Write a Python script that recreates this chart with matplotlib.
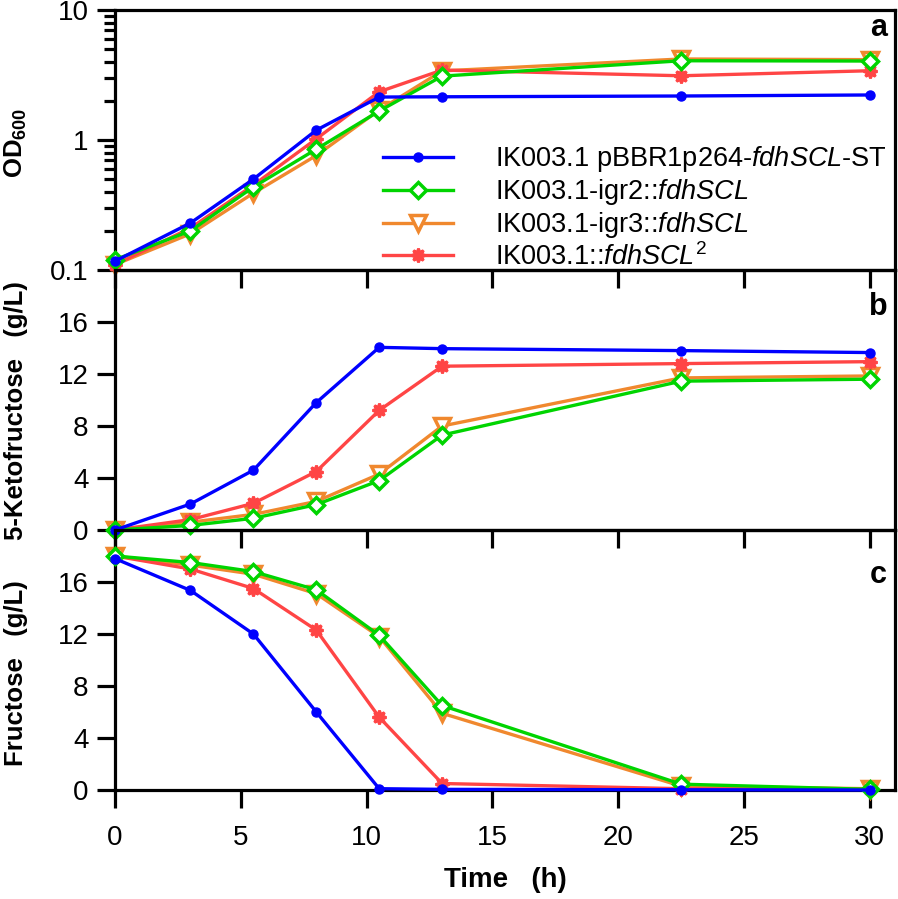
import numpy as np
import matplotlib
matplotlib.use("Agg")
import matplotlib.pyplot as plt

plt.rcParams['font.family'] = ['Liberation Sans', 'DejaVu Sans']
plt.rcParams['mathtext.fontset'] = 'custom'
plt.rcParams['mathtext.rm'] = 'Liberation Sans'
plt.rcParams['mathtext.it'] = 'Liberation Sans:italic'
plt.rcParams['mathtext.bf'] = 'Liberation Sans:bold'

# sampling times (h)
time = [0, 3, 5.5, 8, 10.5, 13, 22.5, 30]

strains = ['IK003.1 pBBR1p264-$\\mathit{fdhSCL}$-ST',
           'IK003.1-igr2::$\\mathit{fdhSCL}$',
           'IK003.1-igr3::$\\mathit{fdhSCL}$',
           'IK003.1::$\\mathit{fdhSCL}^{2}$']

# OD600
od_blue = [0.117, 0.23, 0.50, 1.19, 2.14, 2.15, 2.18, 2.22]
od_green = [0.12, 0.20, 0.435, 0.85, 1.67, 3.1, 4.07, 4.05]
od_orange = [0.11, 0.19, 0.39, 0.76, 1.7, 3.4, 4.2, 4.15]
od_red = [0.11, 0.21, 0.45, 1.02, 2.35, 3.45, 3.12, 3.41]

# 5-ketofructose (g/L)
kf_blue = [0, 2.0, 4.6, 9.8, 14.05, 13.95, 13.8, 13.65]
kf_green = [0, 0.35, 0.9, 1.95, 3.8, 7.3, 11.45, 11.6]
kf_orange = [0, 0.6, 1.2, 2.2, 4.3, 8.0, 11.7, 11.85]
kf_red = [0, 0.8, 2.05, 4.5, 9.2, 12.6, 12.8, 12.95]

# fructose (g/L)
fr_blue = [17.8, 15.35, 12.0, 6.0, 0.1, 0.05, 0.02, 0.0]
fr_green = [18.0, 17.5, 16.8, 15.4, 11.9, 6.5, 0.45, 0.05]
fr_orange = [18.0, 17.3, 16.6, 15.1, 11.8, 5.9, 0.3, 0.1]
fr_red = [18.0, 17.0, 15.5, 12.3, 5.6, 0.5, 0.1, 0.05]

colors = ['#0000ff', '#00d400', '#f0882e', '#ff4545']
styles = [dict(marker='o', ms=6.5, mfc=colors[0], mec=colors[0], zorder=5),
          dict(marker='D', ms=8.5, mfc='white', mec=colors[1], mew=2.5, zorder=4),
          dict(marker='v', ms=12, mfc='white', mec=colors[2], mew=2.5, zorder=2),
          dict(marker=(8, 1, 0), ms=10, mfc=colors[3], mec=colors[3], mew=2,
               zorder=3)]

fig = plt.figure(figsize=(8.98, 8.99), dpi=100)
left, right = 115 / 898, 895 / 898
bottom, top = 1 - 790 / 899, 1 - 10 / 899
ph = (top - bottom) / 3
axes = [fig.add_axes([left, bottom + (2 - i) * ph, right - left, ph]) for i in range(3)]

data = [[od_blue, od_green, od_orange, od_red],
        [kf_blue, kf_green, kf_orange, kf_red],
        [fr_blue, fr_green, fr_orange, fr_red]]

for ax, series in zip(axes, data):
    ax.patch.set_visible(False)
    for k, y in enumerate(series):
        ax.plot(time, y, color=colors[k], lw=2.4, clip_on=False,
                label=strains[k], **styles[k])
    for s in ax.spines.values():
        s.set_linewidth(2.3)
    ax.set_xlim(0, 31)
    ax.set_xticks([0, 5, 10, 15, 20, 25, 30])
    ax.tick_params(which='major', length=13, width=2.3, labelsize=20,
                   direction='out')
    ax.tick_params(axis='y', pad=6)
    ax.tick_params(axis='x', pad=12)

axes[0].set_yscale('log')
axes[0].set_ylim(0.1, 10)
axes[0].set_yticks([0.1, 1, 10])
axes[0].set_yticklabels(['0.1', '1', '10'])
axes[0].tick_params(which='minor', length=8, width=2.3, direction='out')
axes[0].tick_params(axis='x', which='minor', length=0)

for ax in axes[1:]:
    ax.set_ylim(0, 20)
    ax.set_yticks([0, 4, 8, 12, 16])

for ax in axes[:2]:
    ax.tick_params(axis='x', labelbottom=False)

ylabels = ['OD$_{\\mathbf{600}}$', '5-Ketofructose   (g/L)', 'Fructose   (g/L)']
label_y = [0.49, 0.46, 0.45]
for ax, lab, yy in zip(axes, ylabels, label_y):
    ax.set_ylabel(lab, fontsize=18.5, fontweight='bold', va='baseline')
    ax.yaxis.set_label_coords(-0.118, yy)
axes[2].set_xlabel('Time   (h)', fontsize=20, fontweight='bold', labelpad=12)

# panel letters
letter_y = [0.931, 0.858, 0.827]
for ax, lab, yy in zip(axes, ['a', 'b', 'c'], letter_y):
    ax.text(0.99, yy, lab, transform=ax.transAxes, ha='right', va='center',
            fontsize=22, fontweight='bold')

axes[0].legend(loc='center left', bbox_to_anchor=(0.3436, 0.24), frameon=False,
               fontsize=19.5, handlelength=2.58, handletextpad=1.55,
               labelspacing=0.11, borderaxespad=0, borderpad=0)

fig.savefig('out.png', dpi=100)
